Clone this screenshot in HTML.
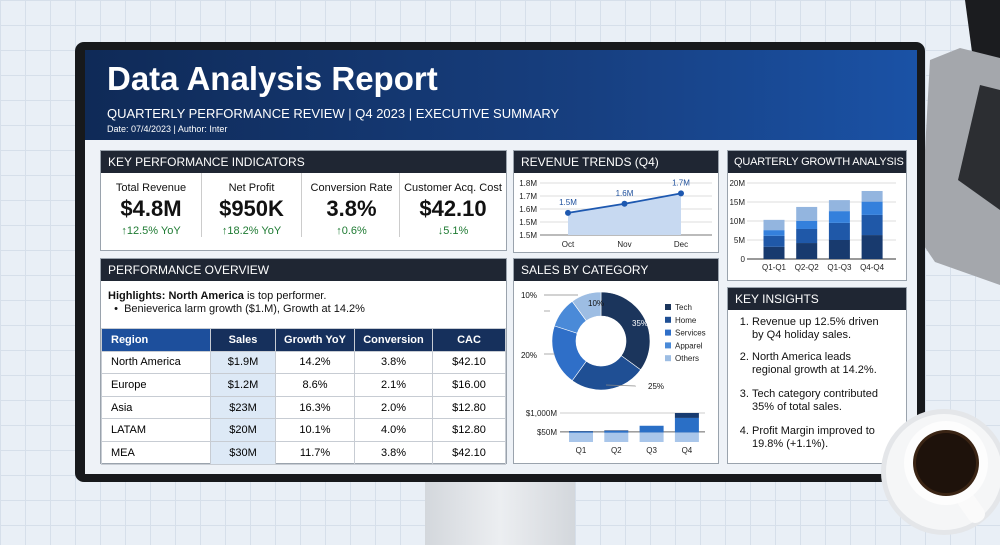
<!DOCTYPE html>
<html><head><meta charset="utf-8"><style>
*{margin:0;padding:0;box-sizing:border-box}
body{width:1000px;height:545px;overflow:hidden;position:relative;font-family:"Liberation Sans",sans-serif;
background-color:#e9eff6;background-image:linear-gradient(#d6dfea 1px,transparent 1px),linear-gradient(90deg,#d6dfea 1px,transparent 1px);background-size:25px 25px}
.abs{position:absolute}
.panel{position:absolute;background:#fff;border:1px solid #9aa3ad}
.ph{background:#1f2633;color:#fff;font-size:12px;height:22px;line-height:22px;padding-left:7px;white-space:nowrap;overflow:hidden}
table{border-collapse:collapse;font-size:11px}
td,th{border:1px solid #c7ccd3;height:22.6px;text-align:center}
th{background:#16305c;color:#fff;font-weight:bold}
td:first-child,th:first-child{text-align:left;padding-left:9px}
.kpi{position:absolute;top:0;width:100px;text-align:center}
.kl{font-size:11px;color:#111;margin-top:9px}
.kv{font-size:22px;font-weight:bold;color:#111;margin-top:2px}
.kc{font-size:11px;color:#1e7a32;margin-top:3px}
ol{font-size:11px;color:#111;padding-left:24px;padding-right:14px}
ol li{margin-bottom:9px;line-height:13px}
</style></head><body>
<!-- laptop -->
<svg class="abs" style="left:880px;top:0" width="120" height="300">
<polygon points="85,0 120,0 120,62 92,52" fill="#1b1c1f"/>
<polygon points="80,48 120,58 120,285 55,262 40,240 50,60" fill="#a4a7ac"/>
<polygon points="100,85 120,90 120,210 78,180" fill="#2c2e32"/>
</svg>
<!-- stand -->
<div class="abs" style="left:425px;top:478px;width:150px;height:67px;background:linear-gradient(90deg,#d3d7dc,#eceef1,#d3d7dc)"></div>
<!-- monitor -->
<div class="abs" style="left:75px;top:42px;width:850px;height:440px;background:#17191c;border-radius:9px"></div>
<div class="abs" style="left:85px;top:50px;width:832px;height:424px;background:#eef2f7"></div>
<div class="abs" style="left:85px;top:50px;width:832px;height:90px;background:linear-gradient(90deg,#0f2a57,#173f80 60%,#1a52a6)">
<div style="position:absolute;left:22px;top:10px;color:#fff;font-size:33px;font-weight:bold">Data Analysis Report</div>
<div style="position:absolute;left:22px;top:56px;color:#fff;font-size:13px">QUARTERLY PERFORMANCE REVIEW | Q4 2023 | EXECUTIVE SUMMARY</div>
<div style="position:absolute;left:22px;top:74px;color:#fff;font-size:9px">Date: 07/4/2023 | Author: Inter</div>
</div>

<!-- KPI -->
<div class="panel" style="left:100px;top:150px;width:407px;height:101px">
<div class="ph">KEY PERFORMANCE INDICATORS</div>
<div style="position:relative;height:78px">
<div class="kpi" style="left:0"><div class="kl">Total Revenue</div><div class="kv">$4.8M</div><div class="kc">↑12.5% YoY</div></div>
<div class="kpi" style="left:100px;border-left:1px solid #ccc"><div class="kl">Net Profit</div><div class="kv">$950K</div><div class="kc">↑18.2% YoY</div></div>
<div class="kpi" style="left:200px;border-left:1px solid #ccc"><div class="kl">Conversion Rate</div><div class="kv">3.8%</div><div class="kc">↑0.6%</div></div>
<div class="kpi" style="left:298px;width:107px;border-left:1px solid #ccc"><div class="kl">Customer Acq. Cost</div><div class="kv">$42.10</div><div class="kc">↓5.1%</div></div>
</div></div>

<!-- Performance overview -->
<div class="panel" style="left:100px;top:258px;width:407px;height:206px">
<div class="ph">PERFORMANCE OVERVIEW</div>
<div style="font-size:11px;color:#111;padding:9px 0 0 7px;height:47px;line-height:13px"><b>Highlights: North America</b> is top performer.<br>&nbsp;&nbsp;•&nbsp; Benieverica larm growth ($1.M), Growth at 14.2%</div>
<table style="width:405px">
<tr><th style="width:109px;background:#1d4f9c">Region</th><th style="width:65px">Sales</th><th style="width:79px">Growth YoY</th><th style="width:78px">Conversion</th><th>CAC</th></tr>
<tr><td>North America</td><td style="background:#dde9f6">$1.9M</td><td>14.2%</td><td>3.8%</td><td>$42.10</td></tr>
<tr><td>Europe</td><td style="background:#dde9f6">$1.2M</td><td>8.6%</td><td>2.1%</td><td>$16.00</td></tr>
<tr><td>Asia</td><td style="background:#dde9f6">$23M</td><td>16.3%</td><td>2.0%</td><td>$12.80</td></tr>
<tr><td>LATAM</td><td style="background:#dde9f6">$20M</td><td>10.1%</td><td>4.0%</td><td>$12.80</td></tr>
<tr><td>MEA</td><td style="background:#dde9f6">$30M</td><td>11.7%</td><td>3.8%</td><td>$42.10</td></tr>
</table></div>

<!-- Revenue trends -->
<div class="panel" style="left:513px;top:150px;width:206px;height:103px">
<div class="ph">REVENUE TRENDS (Q4)</div></div>
<!-- Sales by category -->
<div class="panel" style="left:513px;top:258px;width:206px;height:206px">
<div class="ph">SALES BY CATEGORY</div></div>
<!-- Quarterly growth -->
<div class="panel" style="left:727px;top:150px;width:180px;height:131px">
<div class="ph" style="font-size:11px;letter-spacing:-0.2px;padding-left:6px">QUARTERLY GROWTH ANALYSIS</div></div>
<!-- Key insights -->
<div class="panel" style="left:727px;top:287px;width:180px;height:177px">
<div class="ph">KEY INSIGHTS</div>
<ol style="margin-top:6px">
<li>Revenue up 12.5% driven by Q4 holiday sales.</li>
<li>North America leads regional growth at 14.2%.</li>
<li style="margin-top:11px">Tech category contributed<br>35% of total sales.</li>
<li style="margin-top:11px">Profit Margin improved to 19.8% (+1.1%).</li>
</ol></div>

<svg id="charts" class="abs" style="left:0;top:0" width="1000" height="545"></svg>

<!-- coffee -->
<svg class="abs" style="left:880px;top:400px" width="120" height="145">
<circle cx="64" cy="72" r="63" fill="#e4e6e9"/><circle cx="64" cy="72" r="58" fill="#f5f6f7"/>
<rect x="82" y="90" width="18" height="34" rx="8" fill="#fafafa" transform="rotate(-35 91 107)"/>
<circle cx="66" cy="63" r="42" fill="#fdfdfd"/><circle cx="66" cy="63" r="33" fill="#3a2414"/><circle cx="66" cy="63" r="30" fill="#1e120b"/>
</svg>

<script>
const NS='http://www.w3.org/2000/svg';
const svg=document.getElementById('charts');
function mk(t,a,p){const e=document.createElementNS(NS,t);for(const k in a)e.setAttribute(k,a[k]);(p||svg).appendChild(e);return e;}
function tx(x,y,s,size,anchor,fill,weight){const e=mk('text',{x:x,y:y,'font-size':size,'text-anchor':anchor||'start',fill:fill||'#222','font-family':'Liberation Sans, sans-serif','font-weight':weight||'normal'});e.textContent=s;return e;}

// Revenue trends data
const revMonths=['Oct','Nov','Dec'];
const revValues=[1.57,1.64,1.72];
const revLabels=['1.5M','1.6M','1.7M'];
const revTickVals=[1.8,1.7,1.6,1.5,1.4];
const revTickLabels=['1.8M','1.7M','1.6M','1.5M','1.5M'];
// Quarterly growth data
const qgCats=['Q1-Q1','Q2-Q2','Q1-Q3','Q4-Q4'];
const qgS1=[3.2,4.2,5.0,6.3];
const qgS2=[2.9,3.7,4.5,5.3];
const qgS3=[1.5,2.1,3.1,3.5];
const qgS4=[2.7,3.7,2.9,2.8];
const qgTicks=[0,5,10,15,20];
// Donut data
const catNames=['Tech','Home','Services','Apparel','Others'];
const catShares=[35,25,20,10,10];
// small bar data
const sbCats=['Q1','Q2','Q3','Q4'];
const sbLight=[320,320,330,330];
const sbMid=[40,60,230,500];
const sbDark=[15,20,0,170];
const sbTickVals=[350,1000];
const sbTickLabels=['$50M','$1,000M'];

// ---- revenue line
{const x0=568,dx=56.5,yT=183,yB=235,vT=1.8,vB=1.4;
const X=i=>x0+i*dx, Y=v=>yB-(v-vB)/(vT-vB)*(yB-yT);
revTickVals.forEach((v,i)=>{const l=mk('line',{x1:540,x2:712,y1:Y(v),y2:Y(v),stroke:i==4?'#777':'#ddd','stroke-width':1});

const t=tx(537,Y(v)+3,revTickLabels[i],8,'end');});
let pts=revValues.map((v,i)=>X(i)+','+Y(v)).join(' ');
const a=mk('polygon',{points:X(0)+','+yB+' '+pts+' '+X(revValues.length-1)+','+yB,fill:'#c7d9f1'});

const pl=mk('polyline',{points:pts,fill:'none',stroke:'#1d58b0','stroke-width':1.8});

revValues.forEach((v,i)=>{const c=mk('circle',{cx:X(i),cy:Y(v),r:3,fill:'#1d58b0'});

const l=tx(X(i),Y(v)-8,revLabels[i],8,'middle','#1d4f9c');
const m=tx(X(i),247,revMonths[i],8,'middle');});}

// ---- quarterly stacked
{const yB=259,yT=183,vT=20,X=i=>774+i*32.7,bw=21;const Y=v=>yB-v/vT*(yB-yT);
qgTicks.forEach(v=>{const l=mk('line',{x1:747,x2:896,y1:Y(v),y2:Y(v),stroke:v?'#ddd':'#333'});

const t=tx(745,Y(v)+3,v?v+'M':'0',8,'end');});
const series=[qgS1,qgS2,qgS3,qgS4],cols=['#183a6e','#1f58a8','#3480dc','#93b5df'];
qgCats.forEach((c,i)=>{let acc=0;series.forEach((s,k)=>{const r=mk('rect',{x:X(i)-bw/2,y:Y(acc+s[i]),width:bw,height:Y(acc)-Y(acc+s[i]),fill:cols[k]});
acc+=s[i];});
const t=tx(X(i),270,c,8,'middle');});}

// ---- donut
{const cx=601,cy=341,R=49,r=25,cols=['#1b355c','#1f4f94','#2f6fc8','#4a8ad8','#9dbde3'];
const tot=catShares.reduce((a,b)=>a+b,0);let ang=-Math.PI/2;
const P=(rad,a)=>[cx+rad*Math.cos(a),cy+rad*Math.sin(a)];
const lblPos=[[632,326,'#fff'],[648,389,'#111'],[537,358,'#111'],[537,298,'#111'],[588,306,'#111']];
catShares.forEach((s,i)=>{const a2=ang+s/tot*2*Math.PI,lg=(a2-ang)>Math.PI?1:0;
const [x1,y1]=P(R,ang),[x2,y2]=P(R,a2),[x3,y3]=P(r,a2),[x4,y4]=P(r,ang);
const p=mk('path',{d:`M${x1},${y1}A${R},${R} 0 ${lg} 1 ${x2},${y2}L${x3},${y3}A${r},${r} 0 ${lg} 0 ${x4},${y4}Z`,fill:cols[i],stroke:'#fff','stroke-width':0.6});

const t=tx(lblPos[i][0],lblPos[i][1],s+'%',8,i==2||i==3?'end':'start',lblPos[i][2]);

ang=a2;
const sw=mk('rect',{x:665,y:304+i*12.8,width:6,height:6,fill:cols[i]});
const lt=tx(675,310+i*12.8,catNames[i],8);});
[[544,298,578],[544,314,550],[544,357,555]].forEach(l=>{const ln=mk('line',{x1:l[0],y1:l[1]-3,x2:l[2],y2:l[1]-3,stroke:'#888','stroke-width':0.7});});
const ln=mk('line',{x1:606,y1:385,x2:636,y2:386,stroke:'#888','stroke-width':0.7});}

// ---- small stacked bars
{const yB=442,k=0.029,X=i=>581+i*35.3,bw=24,Y=v=>yB-v*k;
sbTickVals.forEach((v,i)=>{const l=mk('line',{x1:560,x2:705,y1:Y(v),y2:Y(v),stroke:i?'#ccc':'#666'});

const t=tx(557,Y(v)+3,sbTickLabels[i],8,'end');});
const series=[sbLight,sbMid,sbDark],cols=['#a9c6ea','#2a6fc6','#173b70'];
sbCats.forEach((c,i)=>{let acc=0;series.forEach((s,j)=>{if(s[i]>0){const r=mk('rect',{x:X(i)-bw/2,y:Y(acc+s[i]),width:bw,height:s[i]*k,fill:cols[j]});
}acc+=s[i];});
const t=tx(X(i),453,c,8,'middle');});}
</script>
</body></html>
